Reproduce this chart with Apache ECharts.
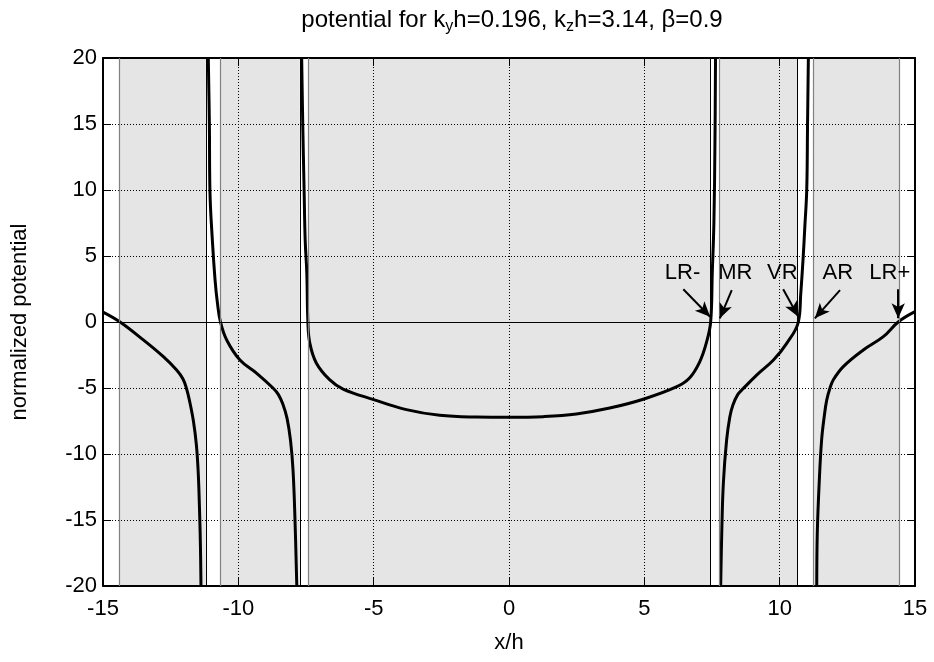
<!DOCTYPE html>
<html>
<head>
<meta charset="utf-8">
<title>potential</title>
<script src="https://cdn.jsdelivr.net/npm/echarts@6/dist/echarts.min.js"></script>
<style>
  html, body { margin: 0; padding: 0; background: #fff; }
  #chart { width: 934px; height: 662px; }
</style>
</head>
<body>
<div id="chart"></div>
<script>
// Normalized potential vs x/h, one array per continuous branch (branches end at poles)
const branchOuterLeft = [
  [-15.0, 0.75], [-14.37, 0], [-13.51, -1.36], [-12.77, -2.63], [-12.28, -3.64],
  [-12.05, -4.3], [-11.92, -5.0], [-11.80, -6.0], [-11.66, -7.5], [-11.55, -9.3],
  [-11.48, -11.5], [-11.43, -14.5], [-11.40, -17], [-11.38, -20]
];
const branchLeft = [
  [-11.11, 20], [-11.07, 15], [-11.05, 10], [-10.96, 6.2], [-10.86, 3.2], [-10.77, 1.4],
  [-10.66, 0], [-10.43, -1.36], [-9.94, -2.88], [-9.32, -3.89], [-8.71, -5.02],
  [-8.52, -5.5], [-8.36, -6.2], [-8.20, -7.3], [-8.07, -9.0], [-7.98, -11.2],
  [-7.91, -14.75], [-7.84, -20]
];
const branchCentre = [
  [-7.66, 20], [-7.62, 15], [-7.57, 10], [-7.53, 6.2], [-7.47, 3.7], [-7.43, 0],
  [-7.36, -1.59], [-7.12, -3.1], [-6.63, -4.37], [-6.13, -5.08], [-5.0, -5.88],
  [-3.79, -6.64], [-2.56, -7.07], [-1.21, -7.2], [0, -7.22], [1.26, -7.17],
  [2.49, -6.97], [3.72, -6.52], [4.99, -5.83], [6.18, -4.92], [6.67, -4.24],
  [7.05, -3.0], [7.29, -1.59], [7.45, 0], [7.51, 3.7], [7.57, 7.5], [7.61, 13.8], [7.63, 20]
];
const branchRight = [
  [7.82, -20], [7.86, -16], [7.92, -12.2], [8.04, -8.94], [8.16, -7.17], [8.27, -6.3],
  [8.45, -5.5], [8.66, -5.03], [9.15, -4.02], [9.77, -2.88], [10.26, -1.62], [10.69, 0],
  [10.78, 2.17], [10.87, 4.95], [10.93, 7.23], [11.0, 10], [11.03, 15], [11.06, 20]
];
const branchOuterRight = [
  [11.37, -20], [11.39, -16], [11.46, -12.2], [11.55, -8.94], [11.65, -7.1], [11.74, -5.9],
  [11.86, -5.0], [11.98, -4.39], [12.35, -3.38], [13.09, -2.12], [13.83, -1.11],
  [14.38, 0], [15.0, 0.78]
];

// Shaded (propagating) intervals of x/h
const shadedBands = [[-14.4, -11.2], [-10.65, -7.73], [-7.4, 7.43], [7.77, 10.66], [11.24, 14.41]];
// Band edges: dark and light vertical rules
const darkEdges = [-11.2, -7.73, 7.43, 10.66];
const lightEdges = [-14.4, -10.65, -7.4, 7.77, 11.24, 14.41];

// Resonance labels and their arrows (label anchor, arrow start, arrow tip)
const resonanceNames = ['LR-', 'MR', 'VR', 'AR', 'LR+'];
const labelAnchors = [[6.41, 3.7], [8.36, 3.7], [10.1, 3.7], [12.15, 3.7], [14.07, 3.7]];
const arrowTails = [[6.44, 2.48], [8.23, 2.42], [10.13, 2.48], [12.23, 2.42], [14.38, 2.48]];
const arrowTips = [[7.43, 0.4], [7.79, 0.28], [10.69, 0.4], [11.30, 0.28], [14.38, 0.28]];

const xTicks = { min: -15, max: 15, step: 5 };
const yTicks = { min: -20, max: 20, step: 5 };

const FONT = 'Liberation Sans, Arial, Helvetica, sans-serif';

const branches = [branchOuterLeft, branchLeft, branchCentre, branchRight, branchOuterRight];

const chart = echarts.init(document.getElementById('chart'), null, { renderer: 'canvas' });

const dotted = { color: '#000', width: 1, type: [1, 2] };
const insideTick = { show: true, inside: true, length: 8, lineStyle: { color: '#000', width: 1 } };

function axisBase(extra) {
  return Object.assign({
    type: 'value', z: 2,
    axisLine: { show: true, onZero: false, lineStyle: { color: '#000', width: 2 } },
    axisTick: insideTick
  }, extra);
}

const series = [{
  // shaded bands and their edge rules
  name: 'bands', type: 'line', data: [], z: 0, silent: true,
  markArea: {
    silent: true, z: 1,
    itemStyle: { color: '#e5e5e5' },
    data: shadedBands.map(b => [{ xAxis: b[0] }, { xAxis: b[1] }])
  },
  markLine: {
    silent: true, symbol: 'none', label: { show: false },
    data: darkEdges.map(x => ({ xAxis: x, lineStyle: { color: '#000', width: 1, type: 'solid' } }))
      .concat(lightEdges.map(x => ({ xAxis: x, lineStyle: { color: '#808080', width: 1.2, type: 'solid' } })))
  }
}];

branches.forEach((b, i) => {
  series.push({
    name: 'potential' + i, type: 'line', data: b, z: 3,
    showSymbol: false, symbol: 'none', smooth: 0.4,
    lineStyle: { color: '#000', width: 3 }
  });
});

// zero line
series.push({
  name: 'zero', type: 'line', data: [], z: 3, silent: true,
  markLine: {
    silent: true, symbol: 'none', label: { show: false },
    lineStyle: { color: '#000', width: 1, type: 'solid' },
    data: [{ yAxis: 0 }]
  }
});

series.push({
  name: 'resonances', type: 'scatter', z: 6, symbolSize: 0, silent: true,
  itemStyle: { opacity: 1 },
  data: labelAnchors.map((p, i) => ({ value: p, name: resonanceNames[i] })),
  label: {
    show: true, position: 'inside', formatter: '{b}',
    fontFamily: FONT, fontSize: 22, color: '#000', opacity: 1
  },
  markLine: {
    silent: true, symbol: ['none', 'arrow'], symbolSize: [10, 15],
    label: { show: false },
    lineStyle: { color: '#000', width: 2, type: 'solid' },
    data: arrowTails.map((t, i) => [{ coord: t }, { coord: arrowTips[i] }])
  }
});

chart.setOption({
  animation: false,
  backgroundColor: '#fff',
  title: {
    text: 'potential for k{sub|y}h=0.196, k{sub|z}h=3.14, \u03b2=0.9',
    left: 507, top: 0, textAlign: 'center',
    textStyle: {
      fontFamily: FONT, fontSize: 24, fontWeight: 'normal', color: '#000',
      lineHeight: 30, verticalAlign: 'middle',
      rich: {
        sub: { fontFamily: FONT, fontSize: 16, color: '#000', lineHeight: 16, verticalAlign: 'bottom' }
      }
    }
  },
  grid: { left: 103, right: 19, top: 58, bottom: 76, containLabel: false },
  xAxis: [axisBase({
    min: xTicks.min, max: xTicks.max, interval: xTicks.step, position: 'bottom',
    name: 'x/h', nameLocation: 'middle', nameGap: 46,
    nameTextStyle: { fontFamily: FONT, fontSize: 22, color: '#000' },
    axisLabel: { fontFamily: FONT, fontSize: 22, color: '#000', margin: 12 },
    splitLine: { show: true, lineStyle: dotted }
  }), axisBase({
    min: xTicks.min, max: xTicks.max, interval: xTicks.step, position: 'top',
    axisLabel: { show: false }, splitLine: { show: false }
  })],
  yAxis: [axisBase({
    min: yTicks.min, max: yTicks.max, interval: yTicks.step, position: 'left',
    name: 'normalized potential', nameLocation: 'middle', nameGap: 72, nameRotate: 90,
    nameTextStyle: { fontFamily: FONT, fontSize: 22, color: '#000' },
    axisLabel: { fontFamily: FONT, fontSize: 22, color: '#000', margin: 6 },
    splitLine: { show: true, lineStyle: dotted }
  }), axisBase({
    min: yTicks.min, max: yTicks.max, interval: yTicks.step, position: 'right',
    axisLabel: { show: false }, splitLine: { show: false }
  })],
  series: series
});
</script>
</body>
</html>
